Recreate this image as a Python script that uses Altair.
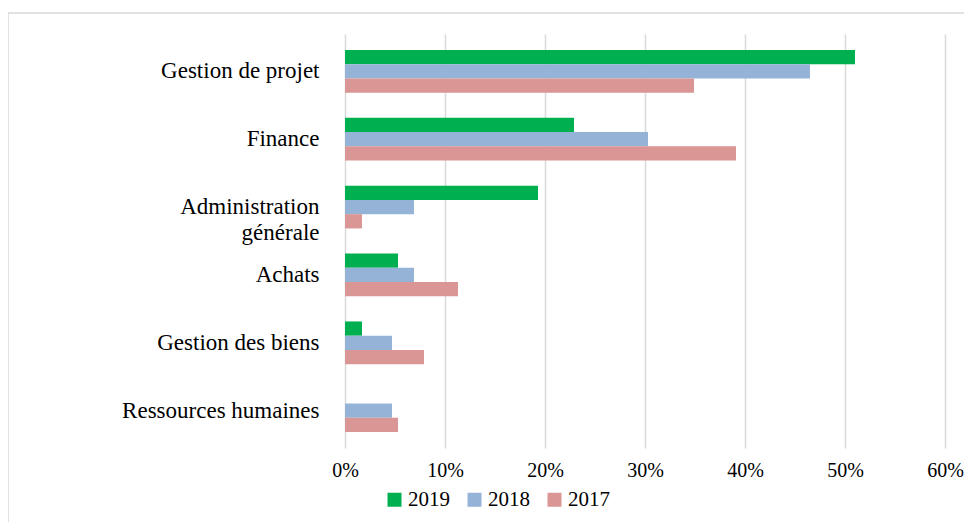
import altair as alt
import pandas as pd

categories = ["Gestion de projet", "Finance", "Administration générale",
              "Achats", "Gestion des biens", "Ressources humaines"]
years = ["2019", "2018", "2017"]
v2019 = [0.51, 0.229, 0.193, 0.053, 0.017, 0.0]
v2018 = [0.465, 0.303, 0.069, 0.069, 0.047, 0.047]
v2017 = [0.349, 0.391, 0.017, 0.113, 0.079, 0.053]
colors = ["#00B050", "#95B3D7", "#D99694"]

rows = []
for i, c in enumerate(categories):
    for y, vals in zip(years, [v2019, v2018, v2017]):
        rows.append({"cat": c, "year": y, "value": vals[i]})
df = pd.DataFrame(rows)

font = "Liberation Serif"

bars = alt.Chart(df).mark_bar().encode(
    y=alt.Y("cat:N", sort=categories, title=None,
            scale=alt.Scale(paddingInner=0.37, paddingOuter=0.234),
            axis=alt.Axis(labelExpr="datum.label == 'Administration générale' ? ['Administration', 'générale'] : datum.label",
                          labelFontSize=23, labelFont=font, labelColor="#000000",
                          labelPadding=26, labelLimit=400, ticks=False, domain=False,
                          labelLineHeight=26)),
    yOffset=alt.YOffset("year:N", sort=years),
    x=alt.X("value:Q", title=None,
            scale=alt.Scale(domain=[0, 0.6]),
            axis=alt.Axis(format=".0%", values=[0, 0.1, 0.2, 0.3, 0.4, 0.5, 0.6],
                          labelFontSize=20, labelFont=font, labelColor="#000000",
                          ticks=False, domain=False, grid=True, gridColor="#D9D9D9",
                          gridWidth=1.5, labelPadding=12, labelFlush=False)),
    color=alt.Color("year:N", sort=years,
                    scale=alt.Scale(domain=years, range=colors),
                    legend=alt.Legend(title=None, orient="none", direction="horizontal",
                                      legendX=39, legendY=455,
                                      symbolType="square", symbolSize=196,
                                      symbolStrokeWidth=0,
                                      labelFontSize=21, labelFont=font, labelColor="#000000",
                                      labelOffset=3, columnPadding=14)),
)

frame = alt.Chart(pd.DataFrame({"f": [0]})).mark_rect(
    fill=None, stroke="#D9D9D9", strokeWidth=1.5
).encode(x=alt.value(-337), x2=alt.value(640), y=alt.value(-21), y2=alt.value(520))

chart = alt.layer(frame, bars).properties(
    width=600, height=414,
    autosize=alt.AutoSizeParams(type="none"),
    padding={"left": 337, "top": 26, "right": 19, "bottom": 74},
).configure(background="white").configure_view(stroke=None)

chart.save("out.html", embed_options={"renderer": "svg", "actions": False})
